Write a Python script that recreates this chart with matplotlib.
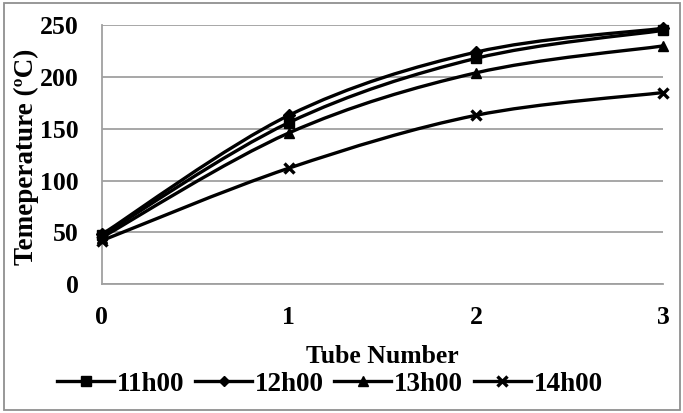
import numpy as np
import matplotlib.pyplot as plt
from matplotlib.path import Path
from matplotlib.patches import PathPatch, Rectangle
from matplotlib.lines import Line2D

plt.rcParams['font.family'] = ['Liberation Serif', 'DejaVu Serif']
plt.rcParams['font.weight'] = 'bold'

tubes = [0, 1, 2, 3]
t_11h = [47, 156, 218, 245]
t_12h = [48, 163, 224, 247]
t_13h = [45, 146, 204, 230]
t_14h = [42, 112, 163, 185]
labels = ['11h00', '12h00', '13h00', '14h00']
markers = ['s', 'D', '^', 'x']


def smooth_path(x, y):
    # Excel-like smoothed line: cubic bezier with catmull-rom control points
    x = np.asarray(x, float)
    y = np.asarray(y, float)
    verts = [(x[0], y[0])]
    codes = [Path.MOVETO]
    n = len(x)
    for i in range(n - 1):
        i0 = max(i - 1, 0)
        i3 = min(i + 2, n - 1)
        c1 = (x[i] + (x[i+1] - x[i0]) / 6, y[i] + (y[i+1] - y[i0]) / 6)
        c2 = (x[i+1] - (x[i3] - x[i]) / 6, y[i+1] - (y[i3] - y[i]) / 6)
        verts += [c1, c2, (x[i+1], y[i+1])]
        codes += [Path.CURVE4] * 3
    return Path(verts, codes)


fig = plt.figure(figsize=(6.83, 4.13), dpi=100)
ax = fig.add_axes([0.149, 0.312, 0.822, 0.627])

handles = []
for vals, lab, m in zip([t_11h, t_12h, t_13h, t_14h], labels, markers):
    ax.add_patch(PathPatch(smooth_path(tubes, vals), facecolor='none',
                           edgecolor='black', lw=2.4, zorder=3, clip_on=False))
    ms = 7.5 if m != 'D' else 6.5
    mew = 2.4 if m == 'x' else 1
    ax.plot(tubes, vals, linestyle='none', marker=m, ms=ms, color='black',
            mew=mew, zorder=4, clip_on=False)
    handles.append(Line2D([], [], color='black', lw=2.4, marker=m, ms=ms - 1, mew=mew))

ax.set_xlim(0, 3)
ax.set_ylim(0, 250)
ax.set_xticks(tubes)
ax.set_yticks(range(0, 251, 50))
ax.grid(axis='y', color='#a0a0a0', lw=1.3)
ax.set_axisbelow(True)
for s in ['top', 'right']:
    ax.spines[s].set_visible(False)
for s in ['left', 'bottom']:
    ax.spines[s].set_color('#a0a0a0')
    ax.spines[s].set_linewidth(1.3)
ax.tick_params(length=0, labelsize=18.5)
ax.tick_params(axis='y', pad=16.5)
ax.tick_params(axis='x', pad=16)

ax.set_xlabel('Tube Number', fontsize=18.5, fontweight='bold')
ax.xaxis.label.set_va('center')
ax.xaxis.set_label_coords(0.5, -0.278)
ax.set_ylabel('Temeperature (\u00baC)', fontsize=19.5, fontweight='bold')
ax.yaxis.label.set_va('center')
ax.yaxis.set_label_coords(-0.134, 0.49)

fig.legend(handles, labels, loc='center', bbox_to_anchor=(0.483, 0.07), ncol=4,
           frameon=False, fontsize=19.5, handlelength=2.1, handletextpad=0.1,
           columnspacing=0.4, borderpad=0)

fig.patches.append(Rectangle((0.006, 0.008), 0.99, 0.984, transform=fig.transFigure,
                             fill=False, edgecolor='#909090', lw=1.3))

fig.savefig('out.png', dpi=100)
